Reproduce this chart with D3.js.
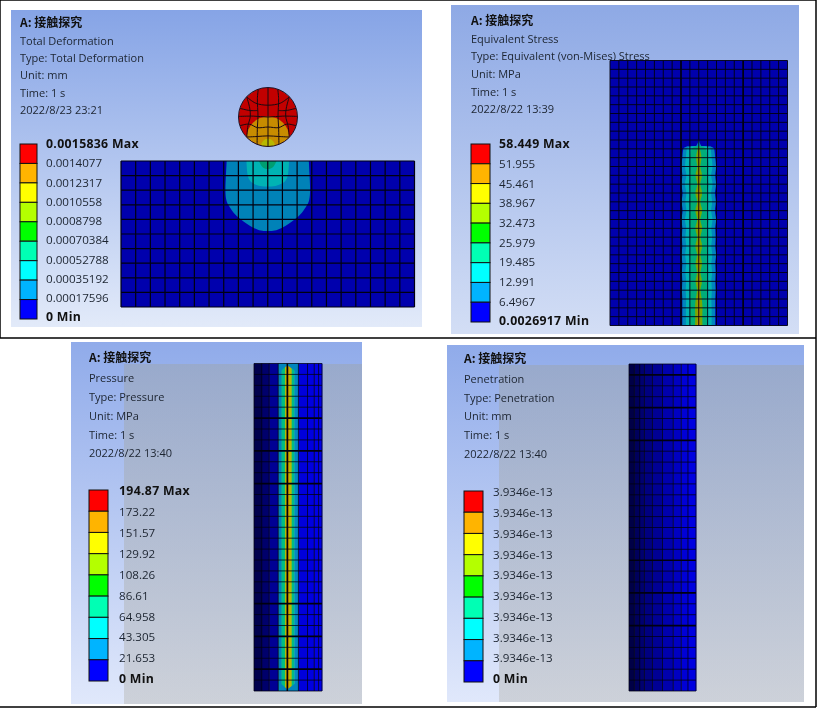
<!DOCTYPE html>
<html>
<head>
<meta charset="utf-8">
<script src="https://cdn.jsdelivr.net/npm/d3@7"></script>
<style>
  body { margin: 0; background: #fff; }
  svg { display: block; }
  text { font-family: "Open Sans", "Noto Sans CJK SC", sans-serif; font-size: 11px; fill: #1c2430; }
  .lab { font-size: 11.6px; }
  .title { font-family: "Noto Sans CJK SC", sans-serif; font-weight: 700; font-size: 12px; fill: #111; }
  .strong { font-weight: 700; font-size: 12.3px; letter-spacing: 0.3px; fill: #111; }
  .panel { filter: blur(0.45px); }
</style>
</head>
<body>
<div id="chart"></div>
<script>
// contour levels, low to high
const legendColors = ["#0000ff", "#00b4ff", "#00ffff", "#00ffb4", "#00ff00", "#b4ff00", "#ffff00", "#ffb400", "#ff0000"];

const headerTitle = "A: 接触探究";
const deformationHeader = ["Total Deformation", "Type: Total Deformation", "Unit: mm", "Time: 1 s", "2022/8/23 23:21"];
const stressHeader = ["Equivalent Stress", "Type: Equivalent (von-Mises) Stress", "Unit: MPa", "Time: 1 s", "2022/8/22 13:39"];
const pressureHeader = ["Pressure", "Type: Pressure", "Unit: MPa", "Time: 1 s", "2022/8/22 13:40"];
const penetrationHeader = ["Penetration", "Type: Penetration", "Unit: mm", "Time: 1 s", "2022/8/22 13:40"];

const deformationLabels = ["0.0015836 Max", "0.0014077", "0.0012317", "0.0010558", "0.0008798", "0.00070384", "0.00052788", "0.00035192", "0.00017596", "0 Min"];
const stressLabels = ["58.449 Max", "51.955", "45.461", "38.967", "32.473", "25.979", "19.485", "12.991", "6.4967", "0.0026917 Min"];
const pressureLabels = ["194.87 Max", "173.22", "151.57", "129.92", "108.26", "86.61", "64.958", "43.305", "21.653", "0 Min"];
const penetrationLabels = ["3.9346e-13", "3.9346e-13", "3.9346e-13", "3.9346e-13", "3.9346e-13", "3.9346e-13", "3.9346e-13", "3.9346e-13", "3.9346e-13", "0 Min"];

// block contact zone: depth in cells, half width in cells
const zoneDepth = [0, 0, 1, 2, 2.67, 3, 3.56, 4, 4.3, 4.6, 4.8, 4.8, 4.8];
const zoneHalf = [2.8, 2.8, 2.85, 2.9, 2.85, 2.7, 2.35, 1.85, 1.45, 0.95, 0.45, 0.1, 0];
const zoneTealDepth = [0, 0, 1.1, 1.5, 1.75, 1.75];
const zoneTealHalf = [1.45, 1.45, 1.4, 1.15, 0.5, 0];
const zoneGreenDepth = [0, 0, 0.35, 0.55, 0.55];
const zoneGreenHalf = [0.6, 0.6, 0.45, 0.2, 0];

// ball mesh, unit circle coordinates
const ballLines = [
  [[0, 1], [0, -1]],
  [[-0.98, 0.02], [-0.5, 0.03], [0, 0], [0.5, 0.03], [0.98, 0.02]],
  [[-0.33, 0.95], [-0.36, 0.62], [-0.34, 0.02], [-0.36, -0.36], [-0.37, -0.93]],
  [[0.33, 0.95], [0.36, 0.62], [0.34, 0.02], [0.36, -0.36], [0.37, -0.93]],
  [[-0.72, 0.68], [-0.42, 0.47], [0, 0.4], [0.42, 0.47], [0.72, 0.68]],
  [[-0.72, 0.68], [-0.62, 0.3], [-0.6, 0.02], [-0.68, -0.3], [-0.72, -0.68]],
  [[0.72, 0.68], [0.62, 0.3], [0.6, 0.02], [0.68, -0.3], [0.72, -0.68]],
  [[-0.97, 0.3], [-0.62, 0.22], [-0.36, 0.22]],
  [[0.97, 0.3], [0.62, 0.22], [0.36, 0.22]],
  [[-0.96, -0.3], [-0.64, -0.24], [-0.36, -0.36], [0, -0.34], [0.36, -0.36], [0.64, -0.24], [0.96, -0.3]],
  [[-0.72, -0.68], [-0.36, -0.66], [0, -0.64], [0.36, -0.66], [0.72, -0.68]]
];

// stress band along the contact line: row, half widths in cells
const stressRow = [9.7, 10, 11, 12, 13, 14, 15, 16, 17, 18, 19, 20, 21, 22, 23, 24, 25, 26, 27, 28, 29, 30];
const stressOuter = [1.3, 1.75, 1.85, 1.95, 1.85, 1.95, 1.82, 1.92, 1.82, 1.95, 1.85, 1.9, 1.85, 1.95, 1.85, 1.9, 1.85, 1.9, 1.85, 1.85, 1.85, 1.85];
const stressMiddle = [0.8, 1.35, 1.45, 1.55, 1.4, 1.55, 1.4, 1.5, 1.4, 1.55, 1.42, 1.5, 1.42, 1.52, 1.42, 1.5, 1.42, 1.48, 1.42, 1.45, 1.45, 1.45];
const stressInner = [0.3, 0.8, 1, 1.1, 0.95, 1.1, 0.95, 1.05, 0.95, 1.1, 0.95, 1.05, 0.95, 1.05, 0.95, 1.05, 0.95, 1, 0.95, 1, 1, 1];
const stressCore = [0.05, 0.12, 0.3, 0.18, 0.36, 0.18, 0.38, 0.18, 0.38, 0.18, 0.38, 0.2, 0.38, 0.2, 0.36, 0.2, 0.36, 0.2, 0.34, 0.42, 0.4, 0.42];
const stressCenter = [0, 0.03, 0.1, 0.04, 0.12, 0.05, 0.13, 0.05, 0.13, 0.06, 0.13, 0.06, 0.13, 0.06, 0.13, 0.06, 0.13, 0.06, 0.13, 0.14, 0.13, 0.2];
const stressTipRow = [8.85, 9.3, 9.7];
const stressTipHalf = [0, 0.1, 0.3];

// pressure strips across the column width (0..1), level and brightness
const pressureEdges = [0, 0.114, 0.223, 0.356, 0.406, 0.455, 0.48, 0.515, 0.554, 0.594, 0.653, 0.78, 0.89, 0.95, 1];
const pressureLevels = [0, 0, 0, 1, 3, 6, 7, 6, 3, 1, 0, 0, 0, 0];
const pressureBright = [0.3, 0.42, 0.58, 0.72, 0.74, 0.72, 0.72, 0.72, 0.74, 0.76, 0.86, 0.88, 0.9, 0.9];
const pressureMeshCols = [0, 0.114, 0.223, 0.356, 0.49, 0.653, 0.787, 0.886, 0.95, 1];
const pressureThickRows = [5, 8, 11, 22, 25, 28];
// the strips open out into the teal cap at both free ends
const pressureCapU = [0.356, 0.49, 0.653];
const pressureTopCapRow = [0.9, 0.15, 0.9];
const pressureBottomCapRow = [29.1, 29.85, 29.1];

// penetration columns
const penetrationEdges = [0, 0.08, 0.16, 0.23, 0.35, 0.5, 0.66, 0.78, 0.88, 1];
const penetrationBright = [0.28, 0.36, 0.44, 0.5, 0.58, 0.68, 0.76, 0.84, 0.88];
const penetrationThickRows = [1, 4, 7, 18, 21, 24];

const svg = d3.select("#chart").append("svg").attr("width", 820).attr("height", 710);
const defs = svg.append("defs");

// contour colour with the model's lighting on it
function lit(level, bright) {
  return d3.interpolateRgb("#000000", legendColors[level])(bright);
}

const background = (id, top, bottom) => {
  const g = defs.append("linearGradient").attr("id", id).attr("x1", 0).attr("x2", 0).attr("y1", 0).attr("y2", 1);
  g.append("stop").attr("offset", 0).attr("stop-color", top);
  g.append("stop").attr("offset", 1).attr("stop-color", bottom);
};
background("bgA", "#86a4e6", "#e2eaf9");
background("bgB", "#8ea9e5", "#d3def5");
background("bgC", "#90abea", "#e0e8fb");
background("bgShade", "#a0a090", "#a8a598");

// frame lines
[[0, 0, 816, 0], [0, 0, 0, 338], [816, 0, 816, 707], [0, 338, 816, 338], [0, 707, 816, 707]].forEach(l => {
  svg.append("line").attr("x1", l[0]).attr("y1", l[1]).attr("x2", l[2]).attr("y2", l[3])
    .attr("stroke", "#000").attr("stroke-width", 1.5);
});

function drawPanel(p) {
  const g = svg.append("g").attr("class", "panel");
  g.append("rect").attr("x", p.x).attr("y", p.y).attr("width", p.w).attr("height", p.h).attr("fill", `url(#${p.bg})`);
  if (p.shadeX) {
    g.append("rect").attr("x", p.shadeX).attr("y", p.shadeY)
      .attr("width", p.x + p.w - p.shadeX).attr("height", p.y + p.h - p.shadeY)
      .attr("fill", "url(#bgShade)").attr("opacity", 0.34);
  }
  // header
  g.append("text").attr("class", "title").attr("x", p.textX).attr("y", p.headY[0]).attr("dy", "0.36em").text(headerTitle);
  p.header.forEach((t, i) => {
    g.append("text").attr("x", p.textX).attr("y", p.headY[i + 1]).attr("dy", "0.36em").text(t);
  });
  // legend
  const levels = d3.range(legendColors.length).reverse();
  const band = d3.scaleBand().domain(levels).range([p.legTop, p.legBottom]);
  g.selectAll("rect.leg").data(levels).enter().append("rect").attr("class", "leg")
    .attr("x", p.legX).attr("width", p.legW)
    .attr("y", d => band(d)).attr("height", band.bandwidth())
    .attr("fill", d => legendColors[d]).attr("stroke", "#111").attr("stroke-width", 1);
  const labelY = d3.scaleLinear().domain([0, 9]).range([p.labTop, p.labBottom]);
  g.selectAll("text.lab").data(p.labels).enter().append("text")
    .attr("class", d => /M(ax|in)/.test(d) ? "lab strong" : "lab")
    .attr("x", p.labX).attr("y", (d, i) => labelY(i)).attr("dy", "0.36em")
    .text(d => d);
  return g;
}

function drawMesh(g, x, y, cols, rows, weight, thickCols, thickRows) {
  g.selectAll(null).data(cols).enter().append("line")
    .attr("x1", d => x(d)).attr("x2", d => x(d)).attr("y1", y.range()[0]).attr("y2", y.range()[1])
    .attr("stroke", "#000010").attr("stroke-width", (d, i) => thickCols.includes(i) ? weight + 0.8 : weight);
  g.selectAll(null).data(rows).enter().append("line")
    .attr("y1", d => y(d)).attr("y2", d => y(d)).attr("x1", x.range()[0]).attr("x2", x.range()[1])
    .attr("stroke", "#000010").attr("stroke-width", (d, i) => thickRows.includes(i) ? weight + 0.9 : weight);
}

// ---- total deformation
const panelA = drawPanel({
  x: 11, y: 10, w: 411, h: 317, bg: "bgA", header: deformationHeader, textX: 20,
  headY: [23, 41, 58, 75, 93, 110], labels: deformationLabels,
  legX: 20, legW: 17, legTop: 144, legBottom: 319, labX: 46, labTop: 144, labBottom: 317
});
const blockX = d3.scaleLinear().domain([0, 20]).range([121, 414.5]);
const blockY = d3.scaleLinear().domain([0, 10]).range([161, 307]);
panelA.append("rect").attr("x", blockX(0)).attr("y", blockY(0))
  .attr("width", blockX(20) - blockX(0)).attr("height", blockY(10) - blockY(0)).attr("fill", lit(0, 0.68));

function zone(g, depth, half, level, bright) {
  const area = d3.area().curve(d3.curveBasis)
    .y((d, i) => blockY(depth[i]))
    .x0((d, i) => blockX(10 - half[i]))
    .x1((d, i) => blockX(10 + half[i]));
  g.append("path").attr("d", area(depth)).attr("fill", lit(level, bright));
}
zone(panelA, zoneDepth, zoneHalf, 1, 0.72);
zone(panelA, zoneTealDepth, zoneTealHalf, 2, 0.7);
zone(panelA, zoneGreenDepth, zoneGreenHalf, 3, 0.62);
drawMesh(panelA, blockX, blockY, d3.range(21), d3.range(11), 1.2, [], []);

const ballX = d3.scaleLinear().domain([-1, 1]).range([238.5, 297.5]);
const ballY = d3.scaleLinear().domain([1, -1]).range([87.5, 146.5]);
const ballR = ballX(1) - ballX(0);
defs.append("clipPath").attr("id", "ballClip").append("circle").attr("cx", ballX(0)).attr("cy", ballY(0)).attr("r", ballR);
const ball = panelA.append("g").attr("clip-path", "url(#ballClip)");
ball.append("circle").attr("cx", ballX(0)).attr("cy", ballY(0)).attr("r", ballR).attr("fill", lit(8, 0.76));
ball.append("circle").attr("cx", ballX(0)).attr("cy", ballY(-0.7)).attr("r", ballR * 0.72).attr("fill", lit(7, 0.78));
ball.append("circle").attr("cx", ballX(0)).attr("cy", ballY(-0.98)).attr("r", ballR * 0.24).attr("fill", lit(6, 0.72));
const ballLine = d3.line().curve(d3.curveCatmullRom).x(d => ballX(d[0])).y(d => ballY(d[1]));
ball.selectAll("path.mesh").data(ballLines).enter().append("path").attr("class", "mesh")
  .attr("d", ballLine).attr("fill", "none").attr("stroke", "#1a0a10").attr("stroke-width", 1);
panelA.append("circle").attr("cx", ballX(0)).attr("cy", ballY(0)).attr("r", ballR)
  .attr("fill", "none").attr("stroke", "#221020").attr("stroke-width", 1);

// ---- equivalent stress
const panelB = drawPanel({
  x: 451, y: 5, w: 348, h: 329, bg: "bgB", header: stressHeader, textX: 471,
  headY: [21, 39, 56, 74, 92, 109], labels: stressLabels,
  legX: 471, legW: 19, legTop: 144, legBottom: 322, labX: 499, labTop: 144, labBottom: 321
});
const stressX = d3.scaleLinear().domain([0, 20]).range([610, 787.5]);
const stressY = d3.scaleLinear().domain([0, 30]).range([60.5, 325.5]);
panelB.append("rect").attr("x", stressX(0)).attr("y", stressY(0))
  .attr("width", stressX(20) - stressX(0)).attr("height", stressY(30) - stressY(0)).attr("fill", lit(0, 0.68));

function band(g, rows, half, level, bright) {
  const area = d3.area().curve(d3.curveMonotoneY)
    .y((d, i) => stressY(rows[i]))
    .x0((d, i) => stressX(10 - half[i]))
    .x1((d, i) => stressX(10 + half[i]));
  g.append("path").attr("d", area(rows)).attr("fill", lit(level, bright));
}
band(panelB, stressTipRow, stressTipHalf, 1, 0.74);
band(panelB, stressRow, stressOuter, 1, 0.74);
band(panelB, stressRow, stressMiddle, 2, 0.7);
band(panelB, stressRow, stressInner, 3, 0.68);
band(panelB, stressRow, stressCore, 5, 0.66);
band(panelB, stressRow, stressCenter, 7, 0.76);
drawMesh(panelB, stressX, stressY, d3.range(21), d3.range(31), 0.9, [8, 15], []);

// ---- pressure
const panelC = drawPanel({
  x: 71, y: 342, w: 291, h: 362, bg: "bgC", header: pressureHeader, textX: 89,
  headY: [358, 378, 397, 416, 435, 453], labels: pressureLabels,
  legX: 89, legW: 19, legTop: 490, legBottom: 681, labX: 119, labTop: 491, labBottom: 679,
  shadeX: 124, shadeY: 364
});
const pressureX = d3.scaleLinear().domain([0, 1]).range([254, 322]);
const pressureY = d3.scaleLinear().domain([0, 30]).range([363.5, 691]);
panelC.selectAll("rect.strip").data(pressureLevels).enter().append("rect").attr("class", "strip")
  .attr("x", (d, i) => pressureX(pressureEdges[i]))
  .attr("width", (d, i) => pressureX(pressureEdges[i + 1]) - pressureX(pressureEdges[i]) + 0.3)
  .attr("y", pressureY(0)).attr("height", pressureY(30) - pressureY(0))
  .attr("fill", (d, i) => lit(d, pressureBright[i]));

function pressureCap(g, capRow, endRow) {
  const area = d3.area()
    .x((d, i) => pressureX(pressureCapU[i]))
    .y0(pressureY(endRow))
    .y1((d, i) => pressureY(capRow[i]));
  g.append("path").attr("d", area(pressureCapU)).attr("fill", lit(1, 0.74));
}
pressureCap(panelC, pressureTopCapRow, 0);
pressureCap(panelC, pressureBottomCapRow, 30);
drawMesh(panelC, pressureX, pressureY, pressureMeshCols, d3.range(31), 0.75, [4], pressureThickRows);

// ---- penetration
const panelD = drawPanel({
  x: 447, y: 345, w: 357, h: 357, bg: "bgC", header: penetrationHeader, textX: 464,
  headY: [359, 379, 398, 416, 435, 454], labels: penetrationLabels,
  legX: 464, legW: 19, legTop: 491, legBottom: 682, labX: 493, labTop: 492, labBottom: 679,
  shadeX: 499, shadeY: 365
});
const penetrationX = d3.scaleLinear().domain([0, 1]).range([629, 696]);
const penetrationY = d3.scaleLinear().domain([0, 30]).range([364, 691]);
panelD.selectAll("rect.strip").data(penetrationBright).enter().append("rect").attr("class", "strip")
  .attr("x", (d, i) => penetrationX(penetrationEdges[i]))
  .attr("width", (d, i) => penetrationX(penetrationEdges[i + 1]) - penetrationX(penetrationEdges[i]) + 0.3)
  .attr("y", penetrationY(0)).attr("height", penetrationY(30) - penetrationY(0))
  .attr("fill", d => lit(0, d));
drawMesh(panelD, penetrationX, penetrationY, penetrationEdges, d3.range(31), 0.75, [], penetrationThickRows);
</script>
</body>
</html>
